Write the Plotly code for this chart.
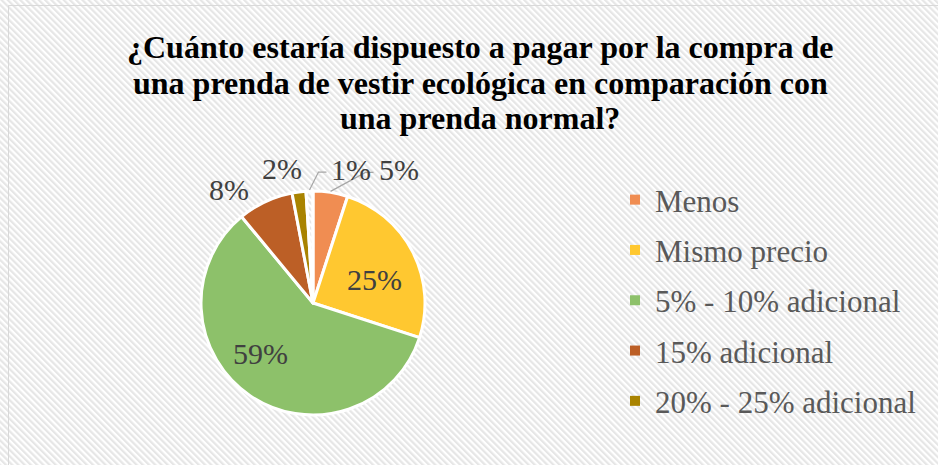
import math
import plotly.graph_objects as go

labels = ["Menos", "Mismo precio", "5% - 10% adicional", "15% adicional", "20% - 25% adicional", ""]
values = [5, 25, 59, 8, 2, 1]
colors = ["#F08D52", "#FFC830", "#8DC16A", "#BC5F26", "#A98300", "rgba(0,0,0,0)"]
# pixel offsets of each value label from the slice's outer edge at its mid-angle, and leader-line flag
label_offset = [(68, -23), (-38, 27), (10, -42), (-36, -12), (-17, -23), (42, -22)]
leader = [True, False, False, False, False, True]
title_lines = [
    "¿Cuánto estaría dispuesto a pagar por la compra de",
    "una prenda de vestir ecológica en comparación con",
    "una prenda normal?",
]

W, H = 938, 465
FONT = "Liberation Serif"
CX, CY, R = 313, 303, 112

stripe_svg = (
    "data:image/svg+xml;utf8,"
    "<svg xmlns='http://www.w3.org/2000/svg' width='938' height='465'>"
    "<defs><pattern id='p' width='4.4' height='4.4' patternUnits='userSpaceOnUse' patternTransform='rotate(-45)'>"
    "<rect width='4.4' height='4.4' fill='white'/><rect width='2.2' height='4.4' fill='%23E6E6E6'/></pattern></defs>"
    "<rect width='938' height='465' fill='url(%23p)'/></svg>"
)

def px(x):
    return x / W

def py(y):
    return 1 - y / H

fig = go.Figure()
fig.add_trace(go.Pie(
    labels=labels, values=values, sort=False, direction="clockwise", rotation=0,
    marker=dict(colors=colors, line=dict(color="white", width=3)),
    textinfo="none",
    domain=dict(x=[px(CX - R), px(CX + R)], y=[py(CY + R), py(CY - R)]),
    showlegend=False, hoverinfo="label+percent",
))
for lab, col in zip(labels[:5], colors[:5]):
    fig.add_trace(go.Scatter(
        x=[None], y=[None], mode="markers", name=lab, legendgroup=lab,
        marker=dict(symbol="square", size=10, color=col),
    ))

# value labels, anchored at the mid-angle of each slice
total = sum(values)
cum = 0
shapes = []
for v, off, ld in zip(values, label_offset, leader):
    mid = (cum + v / 2) / total * 2 * math.pi
    cum += v
    ex, ey = CX + R * math.sin(mid), CY - R * math.cos(mid)
    tx, ty = ex + off[0], ey + off[1]
    fig.add_annotation(text=f"{v}%", xref="paper", yref="paper", x=px(tx), y=py(ty),
                       xanchor="center", yanchor="middle", showarrow=False,
                       font=dict(family=FONT, size=30, color="#404040"))
    if ld:
        kx = tx - 25 if off[0] > 0 else tx + 25
        shapes.append(dict(type="path", xref="paper", yref="paper",
                           path=f"M {px(ex)} {py(ey - 1)} L {px(kx - 8)} {py(ty + 3)} L {px(kx)} {py(ty + 3)}",
                           line=dict(color="#A6A6A6", width=1.2)))

for i, line in enumerate(title_lines):
    fig.add_annotation(text=line, xref="paper", yref="paper", x=px(480), y=py(47 + 35.5 * i),
                       xanchor="center", yanchor="middle", showarrow=False,
                       font=dict(family=FONT, size=32, color="#000000", weight="bold"))

shapes.append(dict(type="rect", xref="paper", yref="paper", x0=px(8.5), x1=1.2, y0=-0.2, y1=py(5.5),
                   line=dict(color="#D9D9D9", width=1), fillcolor="rgba(0,0,0,0)", layer="below"))

fig.update_layout(
    width=W, height=H, margin=dict(l=0, r=0, t=0, b=0),
    font=dict(family=FONT),
    paper_bgcolor="white", plot_bgcolor="rgba(0,0,0,0)",
    xaxis=dict(visible=False), yaxis=dict(visible=False),
    legend=dict(x=px(615), y=py(173), xanchor="left", yanchor="top",
                font=dict(family=FONT, size=31, color="#595959"),
                tracegroupgap=7, bgcolor="rgba(0,0,0,0)"),
    images=[dict(source=stripe_svg, xref="paper", yref="paper", x=0, y=1,
                 sizex=1, sizey=1, xanchor="left", yanchor="top", sizing="stretch", layer="below")],
    shapes=shapes,
)
fig.write_html("out.html", config={"displayModeBar": False},
               post_script="document.body.style.margin='0';")
